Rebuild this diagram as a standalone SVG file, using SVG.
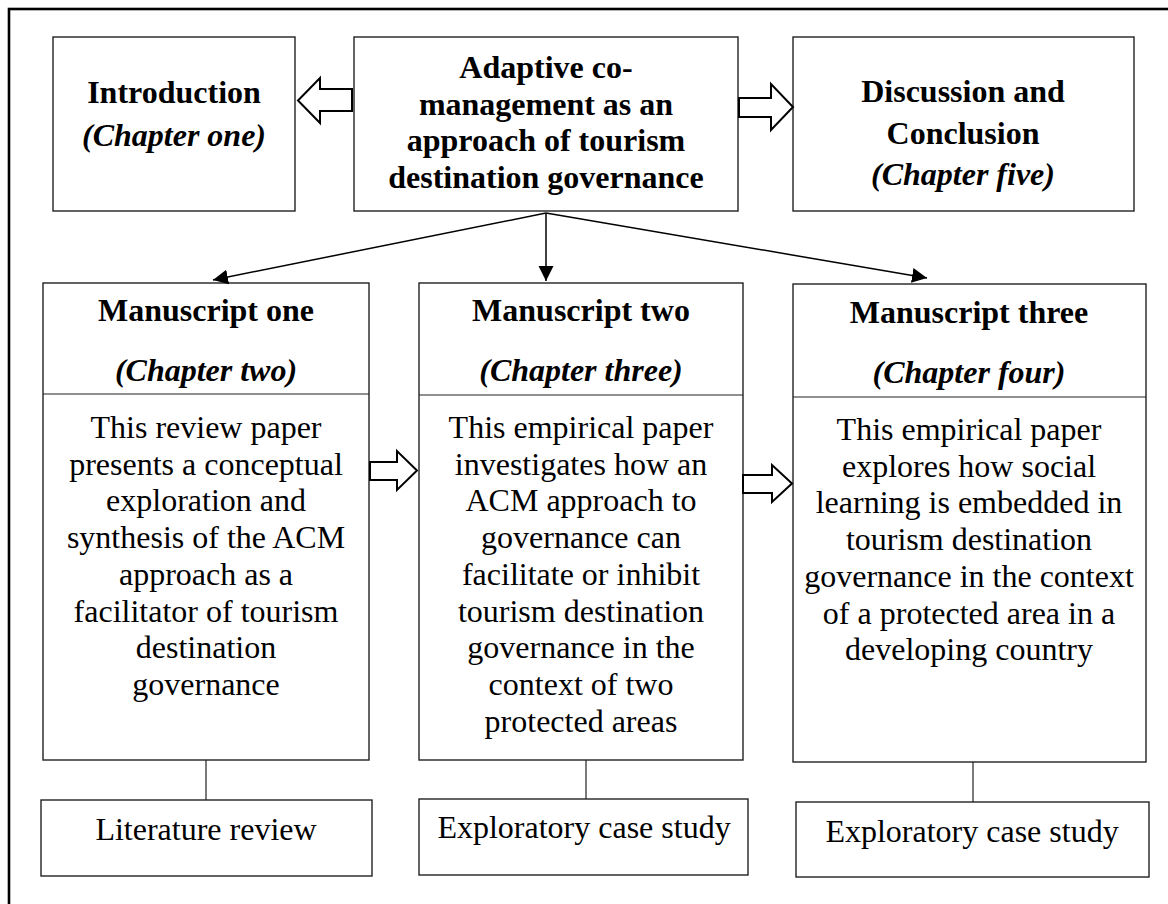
<svg xmlns="http://www.w3.org/2000/svg" width="1168" height="904" viewBox="0 0 1168 904">
<defs>
<style>
.box{fill:#fff;stroke:#222;stroke-width:1.4}
.frame{fill:none;stroke:#000;stroke-width:2.6}
.t{font-family:"Liberation Serif","Times New Roman",serif;font-size:32px;fill:#000;text-anchor:middle}
.b{font-weight:bold}
.bi{font-weight:bold;font-style:italic}
.conn{stroke:#000;stroke-width:1.5;fill:none}
.hollow{fill:#fff;stroke:#000;stroke-width:2;stroke-linejoin:miter}
.link{stroke:#222;stroke-width:1.2}
</style>
<marker id="ah" markerUnits="userSpaceOnUse" markerWidth="16" markerHeight="16" refX="15" refY="7.5" orient="auto">
<path d="M0,0 L15,7.5 L0,15 z" fill="#000"/>
</marker>
</defs>
<rect width="1168" height="904" fill="#fff"/>
<rect class="frame" x="9" y="9" width="1175" height="910"/>

<g id="intro">
<rect class="box" x="53" y="37" width="242" height="174"/>
<text class="t b" x="174" y="103">Introduction</text>
<text class="t bi" x="174" y="146">(Chapter one)</text>
</g>

<g id="acm">
<rect class="box" x="354" y="37" width="384" height="174"/>
<text class="t b" x="546" y="78">Adaptive co-</text>
<text class="t b" x="546" y="114.5">management as an</text>
<text class="t b" x="546" y="151">approach of tourism</text>
<text class="t b" x="546" y="187.5">destination governance</text>
</g>

<g id="discussion">
<rect class="box" x="793" y="37" width="341" height="174"/>
<text class="t b" x="963" y="102">Discussion and</text>
<text class="t b" x="963" y="144">Conclusion</text>
<text class="t bi" x="963" y="185">(Chapter five)</text>
</g>

<g id="m1">
<rect class="box" x="43" y="283" width="326" height="477"/>
<line class="link" x1="43" y1="394" x2="369" y2="394"/>
<text class="t b" x="206" y="321">Manuscript one</text>
<text class="t bi" x="206" y="381">(Chapter two)</text>
<text class="t" x="206" y="438">This review paper</text>
<text class="t" x="206" y="474.7">presents a conceptual</text>
<text class="t" x="206" y="511.4">exploration and</text>
<text class="t" x="206" y="548.1">synthesis of the ACM</text>
<text class="t" x="206" y="584.8">approach as a</text>
<text class="t" x="206" y="621.5">facilitator of tourism</text>
<text class="t" x="206" y="658.2">destination</text>
<text class="t" x="206" y="694.9">governance</text>
</g>

<g id="m2">
<rect class="box" x="419" y="283" width="324" height="477"/>
<line class="link" x1="419" y1="395" x2="743" y2="395"/>
<text class="t b" x="581" y="321">Manuscript two</text>
<text class="t bi" x="581" y="381">(Chapter three)</text>
<text class="t" x="581" y="438">This empirical paper</text>
<text class="t" x="581" y="474.7">investigates how an</text>
<text class="t" x="581" y="511.4">ACM approach to</text>
<text class="t" x="581" y="548.1">governance can</text>
<text class="t" x="581" y="584.8">facilitate or inhibit</text>
<text class="t" x="581" y="621.5">tourism destination</text>
<text class="t" x="581" y="658.2">governance in the</text>
<text class="t" x="581" y="694.9">context of two</text>
<text class="t" x="581" y="731.6">protected areas</text>
</g>

<g id="m3">
<rect class="box" x="793" y="284" width="353" height="478"/>
<line class="link" x1="793" y1="397" x2="1146" y2="397"/>
<text class="t b" x="969" y="323">Manuscript three</text>
<text class="t bi" x="969" y="383">(Chapter four)</text>
<text class="t" x="969" y="440">This empirical paper</text>
<text class="t" x="969" y="476.7">explores how social</text>
<text class="t" x="969" y="513.4">learning is embedded in</text>
<text class="t" x="969" y="550.1">tourism destination</text>
<text class="t" x="969" y="586.8">governance in the context</text>
<text class="t" x="969" y="623.5">of a protected area in a</text>
<text class="t" x="969" y="660.2">developing country</text>
</g>

<g id="lit">
<rect class="box" x="41" y="800" width="331" height="76"/>
<text class="t" x="206" y="840">Literature review</text>
</g>

<g id="case2">
<rect class="box" x="419" y="799" width="329" height="76"/>
<text class="t" x="584" y="838">Exploratory case study</text>
</g>

<g id="case3">
<rect class="box" x="796" y="802" width="353" height="75"/>
<text class="t" x="972" y="842">Exploratory case study</text>
</g>

<g id="connectors">
<line class="conn" x1="546" y1="213" x2="213" y2="280" marker-end="url(#ah)"/>
<line class="conn" x1="546" y1="213" x2="546" y2="281" marker-end="url(#ah)"/>
<line class="conn" x1="546" y1="213" x2="927" y2="278" marker-end="url(#ah)"/>
<polygon class="hollow" points="352,89 320,89 320,78 298,100.5 320,123 320,111 352,111"/>
<polygon class="hollow" points="739,98 771,98 771,84 793,107 771,130 771,117 739,117"/>
<polygon class="hollow" points="370,462 397,462 397,451 417,470.5 397,490 397,480 370,480"/>
<polygon class="hollow" points="743,475 772,475 772,465 792,483.5 772,502 772,493 743,493"/>
<line class="link" x1="206" y1="760" x2="206" y2="800"/>
<line class="link" x1="586" y1="760" x2="586" y2="799"/>
<line class="link" x1="973" y1="762" x2="973" y2="802"/>
</g>
</svg>
